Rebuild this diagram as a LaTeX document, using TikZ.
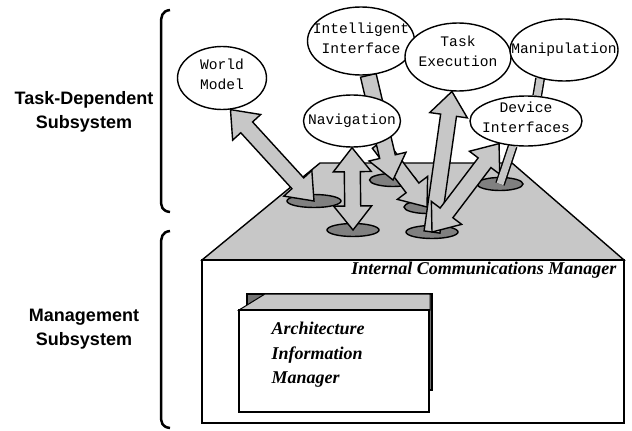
\documentclass[tikz,border=0pt]{standalone}
\usepackage{fontspec}
\setmainfont{Liberation Serif}
\newfontfamily\monofam{Liberation Mono}
\newfontfamily\sansfam{Liberation Sans}
\usetikzlibrary{shapes.geometric, calc}
\pgfdeclarelayer{back}
\pgfdeclarelayer{links}
\pgfsetlayers{back,links,main}
\newcommand{\shaftw}{8pt}
\newcommand{\headw}{19pt}
\newcommand{\headl}{24pt}
\newcommand{\fatarrow}[2]{%
  \draw[fatlink] let \p1=($(#2)-(#1)$), \n1={atan2(\y1,\x1)} in
    ($(#1)+(\n1+90:\shaftw)$) -- ($(#2)+(\n1+180:\headl)+(\n1+90:\shaftw)$) --
    ($(#2)+(\n1+180:\headl)+(\n1+90:\headw)$) -- ($(#2)$) --
    ($(#2)+(\n1+180:\headl)+(\n1-90:\headw)$) -- ($(#2)+(\n1+180:\headl)+(\n1-90:\shaftw)$) --
    ($(#1)+(\n1-90:\shaftw)$) -- cycle;}
\newcommand{\fatdarrow}[2]{%
  \draw[fatlink] let \p1=($(#2)-(#1)$), \n1={atan2(\y1,\x1)} in
    ($(#1)$) -- ($(#1)+(\n1:\headl)+(\n1+90:\headw)$) -- ($(#1)+(\n1:\headl)+(\n1+90:\shaftw)$) --
    ($(#2)+(\n1+180:\headl)+(\n1+90:\shaftw)$) -- ($(#2)+(\n1+180:\headl)+(\n1+90:\headw)$) --
    ($(#2)$) --
    ($(#2)+(\n1+180:\headl)+(\n1-90:\headw)$) -- ($(#2)+(\n1+180:\headl)+(\n1-90:\shaftw)$) --
    ($(#1)+(\n1:\headl)+(\n1-90:\shaftw)$) -- ($(#1)+(\n1:\headl)+(\n1-90:\headw)$) -- cycle;}

\begin{document}
\begin{tikzpicture}[x=1pt,y=-1pt,
  bubble/.style={draw,ellipse,fill=white,line width=1.4pt,inner sep=0pt},
  btext/.style={font=\monofam\fontsize{14.6}{20}\selectfont,align=center},
  port/.style={draw,ellipse,fill=black!50,line width=1.4pt,inner sep=0pt,minimum height=13pt},
  fatlink/.style={draw,fill=black!22,line width=1.4pt},
  linkbar/.style={double=black!22,double distance=7pt,line width=1.4pt},
  sidelabel/.style={font=\sansfam\bfseries\fontsize{18}{24}\selectfont,align=center},
  bracket/.style={line width=2.5pt},
  mgrtext/.style={font=\bfseries\itshape\fontsize{18}{24.5}\selectfont,align=left}]
  \useasboundingbox (0,0) rectangle (632,431);

  \draw[bracket] (170,10) .. controls (162,11) and (161,16) .. (161,24) -- (161,199)
    .. controls (161,207) and (162,211) .. (170,212);
  \draw[bracket] (170,231) .. controls (162,232) and (161,237) .. (161,245) -- (161,415)
    .. controls (161,423) and (162,427) .. (170,428);
  \node[sidelabel] (tds) at (84,112) {Task-Dependent\\Subsystem};
  \node[sidelabel] (mgs) at (84,329) {Management\\Subsystem};

  \node[bubble,minimum width=89pt,minimum height=63pt] (wm) at (222,78) {};
  \node[btext] (wm-t) at ([yshift=4pt]wm.center) {World\\Model};
  \node[bubble,minimum width=107pt,minimum height=68pt] (ii) at (361,41) {};
  \node[btext] (ii-t) at ([yshift=3pt]ii.center) {Intelligent\\Interface};
  \node[bubble,minimum width=106pt,minimum height=68pt] (te) at (458,57) {};
  \node[btext] (te-t) at ([yshift=6pt]te.center) {Task\\Execution};
  \node[bubble,minimum width=108pt,minimum height=62pt] (mp) at (564,50) {};
  \node[btext] (mp-t) at (mp) {Manipulation};
  \node[bubble,minimum width=97pt,minimum height=52pt] (nv) at (352,121) {};
  \node[btext] (nv-t) at (nv) {Navigation};
  \node[bubble,minimum width=112pt,minimum height=50pt] (di) at (526,121) {};
  \node[btext] (di-t) at ([yshift=4pt]di.center) {Device\\Interfaces};

  \begin{pgfonlayer}{back}
    \filldraw[fill=black!22,line width=1.4pt] (202,260) -- (320,163) -- (512,163) -- (624,260) -- cycle;
    \filldraw[fill=white,line width=1.6pt] (202,260) rectangle (624,423);
    \node[mgrtext,anchor=east] (icm) at (620,270) {Internal Communications Manager};
    \filldraw[fill=black!55,line width=1.4pt] (247,294) rectangle (432,390);
    \filldraw[fill=black!22,line width=1pt] (239,310) -- (265,294) -- (430,294) -- (430,310) -- cycle;
    \filldraw[fill=white,line width=1.6pt] (239,310) rectangle (429,412);
    \node[mgrtext,anchor=west] (aim) at (268,355) {Architecture\\Information\\Manager};
    \node[port,minimum width=54pt] (p1) at (314,201) {};
    \node[port,minimum width=52pt] (p2) at (353,230) {};
    \node[port,minimum width=47pt] (p3) at (393,180) {};
    \node[port,minimum width=46pt] (p4) at (427,207) {};
    \node[port,minimum width=52pt] (p5) at (432,232) {};
    \node[port,minimum width=46pt] (p6) at (500,184) {};
  \end{pgfonlayer}

  \begin{pgfonlayer}{links}
    \fatarrow{p5}{te.-100}
    \fatarrow{nv.-40}{p4}
    \fatdarrow{p5}{di.-140}
    \draw[linkbar] (di.-118) -- (p6.center);
    \draw[linkbar] (mp.-130) -- (di.66);
    \fatarrow{ii.-78}{p3}
    \fatdarrow{wm.-75}{p1}
    \fatdarrow{nv.south}{p2}
  \end{pgfonlayer}
\end{tikzpicture}
\end{document}
